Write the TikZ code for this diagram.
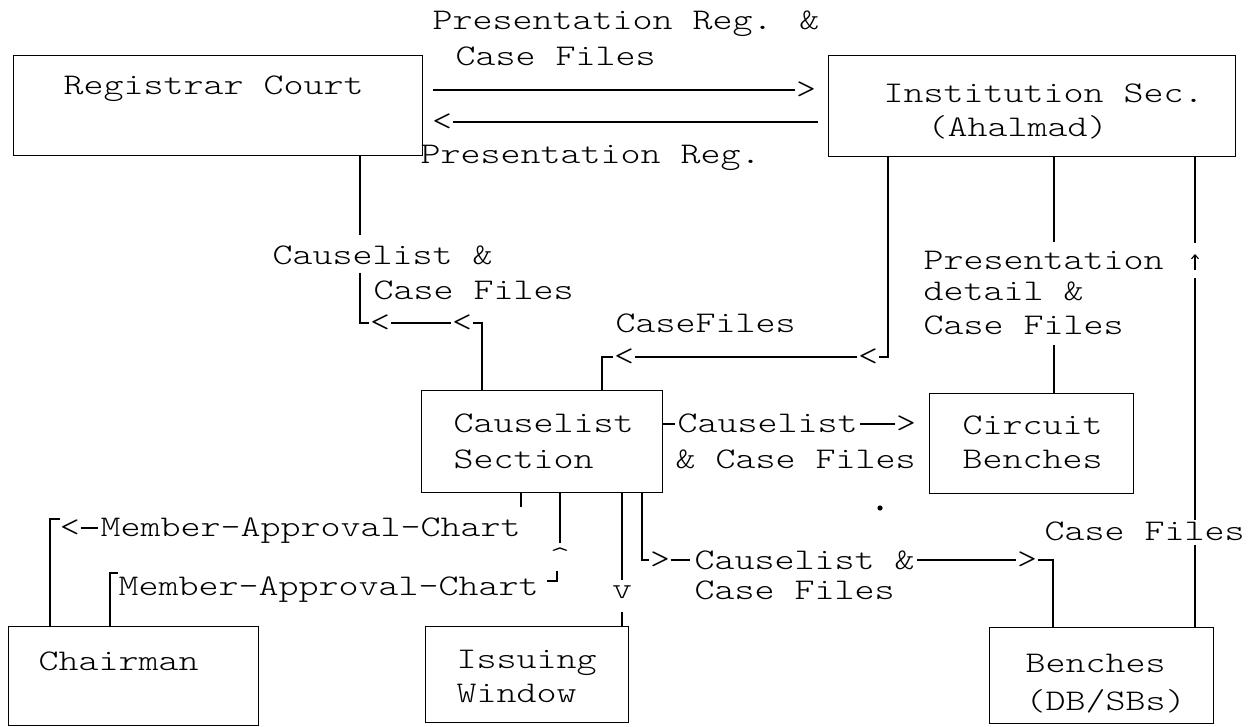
\documentclass[tikz,border=0pt]{standalone}
\usepackage{fontspec}
\newfontfamily\tw{lmmonolt10-regular}[Extension=.otf, FakeStretch=1.27]
\usetikzlibrary{arrows.meta}

\begin{document}
\begin{tikzpicture}[x=1pt, y=-1pt, line width=1.4pt,
  box/.style={draw, rectangle, inner sep=0pt, anchor=north west},
  lbl/.style={anchor=base west, inner sep=0pt, font={\tw\fontsize{30}{34}\selectfont}},
  glyph/.style={anchor=center, inner sep=0pt, font={\tw\fontsize{30}{34}\selectfont}},
]
\useasboundingbox[fill=white] (0,0) rectangle (1254,727);

% ---------- boxes ----------
\node[box, minimum width=409pt, minimum height=100pt] (rc) at (13,55)  {};
\node[box, minimum width=407pt, minimum height=101pt] (is) at (828,55) {};
\node[box, minimum width=241pt, minimum height=102pt] (cs) at (421,390) {};
\node[box, minimum width=204pt, minimum height=100pt] (cb) at (929,393) {};
\node[box, minimum width=250pt, minimum height=99pt]  (ch) at (8,626)   {};
\node[box, minimum width=203pt, minimum height=96pt]  (iw) at (425,626) {};
\node[box, minimum width=224pt, minimum height=96pt]  (bn) at (989,627) {};

% ---------- box texts ----------
\node[lbl] (trc)  at (63,95)   {Registrar Court};
\node[lbl] (tis1) at (883,103) {Institution Sec.};
\node[lbl] (tis2) at (927,137) {(Ahalmad)};
\node[lbl] (tcs1) at (453,432) {Causelist};
\node[lbl] (tcs2) at (453,468) {Section};
\node[lbl] (tcb1) at (962,435) {Circuit};
\node[lbl] (tcb2) at (962,468) {Benches};
\node[lbl] (tch)  at (38,670)  {Chairman};
\node[lbl] (tiw1) at (456,668) {Issuing};
\node[lbl] (tiw2) at (456,702) {Window};
\node[lbl] (tbn1) at (1025,672) {Benches};
\node[lbl] (tbn2) at (1025,710) {(DB/SBs)};

% ---------- connector labels ----------
\node[lbl] (ltop1) at (432,30)  {Presentation Reg. \&};
\node[lbl] (ltop2) at (455,66)  {Case Files};
\node[lbl] (lbot)  at (420,164) {Presentation Reg.};
\node[lbl] (lcl1)  at (272,265) {Causelist \&};
\node[lbl] (lcl2)  at (373,300) {Case Files};
\node[lbl] (lcf)   at (615,333) {CaseFiles};
\node[lbl] (lpd1)  at (923,270) {Presentation};
\node[lbl] (lpd2)  at (923,301) {detail \&};
\node[lbl] (lpd3)  at (923,335) {Case Files};
\node[lbl] (lcc1)  at (677,432) {Causelist};
\node[lbl] (lcc2)  at (675,468) {\& Case Files};
\node[lbl] (lrcf)  at (1044,540) {Case Files};
\node[lbl] (lma1)  at (100,536) {Member-Approval-Chart};
\node[lbl] (lma2)  at (118,595) {Member-Approval-Chart};
\node[lbl] (lcz1)  at (694,569) {Causelist \&};
\node[lbl] (lcz2)  at (694,599) {Case Files};

% ---------- Registrar Court <-> Institution Sec. ----------
\node[glyph] (ga) at (806,90) {>};
\coordinate (ga0) at (433,90);
\draw (ga0) -- (ga.west);
\node[glyph] (gb) at (442,122) {<};
\coordinate (gb0) at (818,122);
\draw (gb.east) -- (gb0);

% ---------- Causelist Section -> Registrar Court ----------
\coordinate (r1) at (360,235);
\draw (rc.south -| r1) -- (r1);
\coordinate (r2) at (360,273);
\node[glyph] (gc) at (380,323) {<};
\node[glyph] (gd) at (462,323) {<};
\draw (r2) |- (gc.west);
\draw (gc.east) -- (gd.west);
\coordinate (c1) at (482,0);
\draw (gd.east) -| (cs.north -| c1);

% ---------- Institution Sec. -> Causelist Section ----------
\node[glyph] (ge) at (868,357) {<};
\node[glyph] (gf) at (624,357) {<};
\coordinate (c2) at (888,0);
\draw (is.south -| c2) |- (ge.east);
\draw (ge.west) -- (gf.east);
\coordinate (c3) at (602,0);
\draw (gf.west) -| (cs.north -| c3);

% ---------- Institution Sec. -- Circuit Benches ----------
\coordinate (c4) at (1054,242);
\draw (is.south -| c4) -- (c4);
\coordinate (c5) at (1054,345);
\draw (c5) -- (cb.north -| c5);

% ---------- Benches -> Institution Sec. ----------
\coordinate (c6) at (1195,243);
\draw (is.south -| c6) -- (c6);
\draw[-{Straight Barb[length=4pt,width=7pt]}, line width=1.1pt] (1195,270) -- (1195,254);
\coordinate (c7) at (1195,278);
\coordinate (c8) at (1195,520);
\draw (c7) -- (c8);
\coordinate (c9) at (1195,545);
\draw (c9) -- (bn.north -| c9);

% ---------- Causelist Section -> Circuit Benches ----------
\coordinate (c10) at (675,424);
\draw (cs.east |- c10) -- (c10);
\node[glyph] (gg) at (906,424) {>};
\coordinate (c11) at (860,424);
\draw (c11) -- (gg.west);

% ---------- Causelist Section -> Chairman ----------
\coordinate (c12) at (521,507);
\draw (cs.south -| c12) -- (c12);
\node[glyph] (gh) at (70,528) {<};
\coordinate (c13) at (98,528);
\draw (gh.east) -- (c13);
\coordinate (c14) at (60,519);
\coordinate (c15) at (50,519);
\draw (c14) -- (c15) -- (ch.north -| c15);

% ---------- Chairman -> Causelist Section ----------
\coordinate (c16) at (118,573);
\coordinate (c17) at (110,573);
\draw (c16) -- (c17) -- (ch.north -| c17);
\coordinate (c18) at (547,581);
\coordinate (c19) at (557,571);
\draw (c18) -| (c19);
\coordinate (c20) at (560,543);
\draw (cs.south -| c20) -- (c20);
\node[lbl, anchor=base] (gi) at (560,566) {\textasciicircum};

% ---------- Causelist Section -> Issuing Window ----------
\coordinate (c21) at (622,580);
\draw (cs.south -| c21) -- (c21);
\node[glyph] (gj) at (622,592) {v};
\coordinate (c22) at (622,612);
\draw (c22) -- (iw.north -| c22);

% ---------- Causelist Section -> Benches ----------
\coordinate (c23) at (642,0);
\node[glyph] (gk) at (660,560) {>};
\draw (cs.south -| c23) |- (gk.west);
\coordinate (c24) at (690,560);
\draw (gk.east) -- (c24);
\coordinate (c25) at (917,560);
\node[glyph] (gl) at (1027,560) {>};
\draw (c25) -- (gl.west);
\coordinate (c26) at (1053,0);
\draw (gl.east) -| (bn.north -| c26);

% stray mark
\fill (880,508) circle[radius=2.6pt];
\end{tikzpicture}
\end{document}
